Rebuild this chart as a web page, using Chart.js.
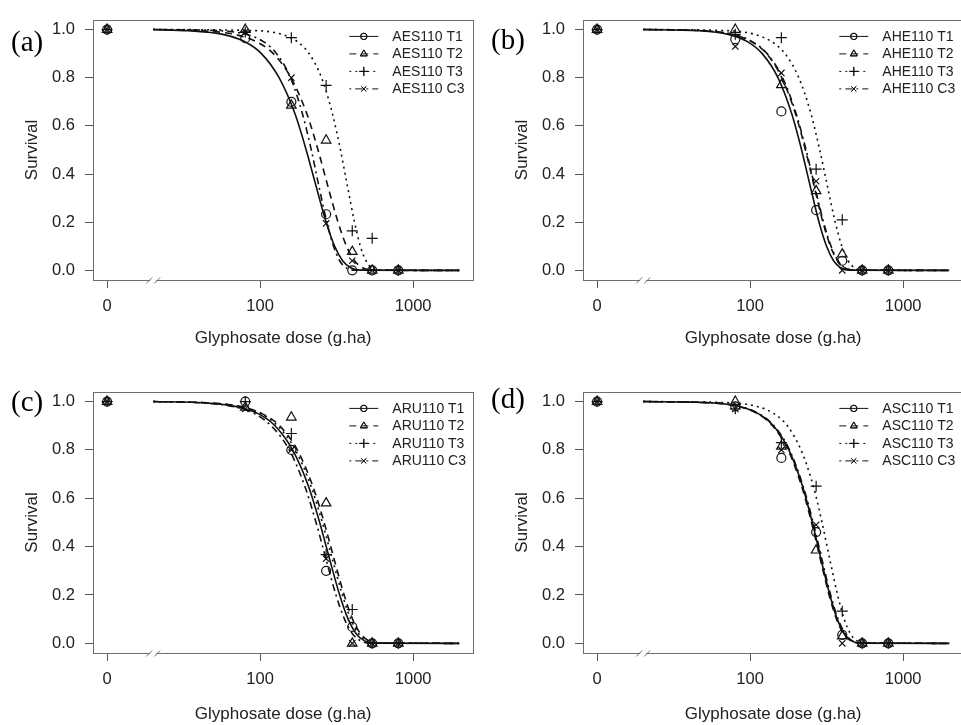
<!DOCTYPE html>
<html><head><meta charset="utf-8">
<script src="https://cdn.jsdelivr.net/npm/chart.js@4/dist/chart.umd.min.js"></script>
<style>
html,body{margin:0;padding:0;background:#fff;overflow:hidden;width:961px;height:725px;position:relative;}
canvas{position:absolute;}
.tag{position:absolute;font-family:"Liberation Serif","Times New Roman",serif;font-size:29px;line-height:32px;color:#000;}
</style></head><body>
<canvas id="ca" width="480" height="360" style="left:0;top:0"></canvas>
<canvas id="cb" width="480" height="360" style="left:490px;top:0"></canvas>
<canvas id="cc" width="480" height="360" style="left:0;top:372px"></canvas>
<canvas id="cd" width="480" height="360" style="left:490px;top:372px"></canvas>
<div class="tag" style="left:11px;top:25px">(a)</div>
<div class="tag" style="left:491px;top:23px">(b)</div>
<div class="tag" style="left:11px;top:385px">(c)</div>
<div class="tag" style="left:491px;top:382px">(d)</div>
<script>
// ---------- data ----------
const doses = [0, 80, 160, 270, 400, 540, 800];      // glyphosate doses (g/ha)
const zeroDosePosition = 10;                         // where dose 0 sits on the broken log axis
const breakDose = 20;                                // axis break mark
const tickDoses = [10, 100, 1000];
const tickLabels = ['0', '100', '1000'];
const yTicks = [0, 0.2, 0.4, 0.6, 0.8, 1.0];
const xTitle = 'Glyphosate dose (g.ha)';
const yTitle = 'Survival';

// observed survival at each dose
const a_T1 = [1, 0.964, 0.70, 0.233, 0, 0, 0];
const a_T2 = [1, 1.0, 0.685, 0.54, 0.078, 0, 0];
const a_T3 = [1, 0.99, 0.966, 0.768, 0.164, 0.133, 0];
const a_C3 = [1, 0.99, 0.80, 0.195, 0.04, 0, 0];
const b_T1 = [1, 0.96, 0.66, 0.25, 0.04, 0, 0];
const b_T2 = [1, 1.0, 0.77, 0.33, 0.067, 0, 0];
const b_T3 = [1, 0.98, 0.966, 0.42, 0.21, 0, 0];
const b_C3 = [1, 0.93, 0.82, 0.37, 0, 0, 0];
const c_T1 = [1, 1.0, 0.80, 0.30, 0.068, 0, 0];
const c_T2 = [1, 0.976, 0.935, 0.58, 0, 0, 0];
const c_T3 = [1, 1.0, 0.868, 0.367, 0.14, 0, 0];
const c_C3 = [1, 0.97, 0.80, 0.35, 0, 0, 0];
const d_T1 = [1, 0.98, 0.767, 0.46, 0.035, 0, 0];
const d_T2 = [1, 1.0, 0.815, 0.385, 0.03, 0, 0];
const d_T3 = [1, 0.97, 0.83, 0.65, 0.133, 0, 0];
const d_C3 = [1, 0.97, 0.80, 0.49, 0, 0, 0];

// fitted curves: dose at which each curve reaches the survival levels below
const curveSurvival = [1, 0.995, 0.98, 0.95, 0.9, 0.8, 0.65, 0.5, 0.35, 0.2, 0.1, 0.04, 0.01, 0.001, 0];
const a_T1_curve = [20, 34, 57, 79, 102, 133, 169, 200, 232, 270, 307, 346, 393, 455, 2000];
const a_T2_curve = [20, 41, 68, 94, 122, 159, 202, 239, 277, 323, 367, 414, 470, 543, 2000];
const a_T3_curve = [20, 98, 138, 175, 209, 252, 297, 335, 372, 414, 452, 492, 538, 595, 2000];
const a_C3_curve = [20, 55, 81, 105, 128, 158, 189, 216, 242, 273, 302, 331, 366, 409, 2000];
const b_T1_curve = [20, 47, 72, 96, 120, 152, 187, 217, 247, 282, 316, 351, 392, 445, 2000];
const b_T2_curve = [20, 49, 76, 102, 128, 161, 198, 230, 262, 299, 335, 372, 416, 472, 2000];
const b_T3_curve = [20, 73, 107, 138, 169, 208, 250, 285, 320, 360, 398, 437, 482, 540, 2000];
const b_C3_curve = [20, 50, 77, 103, 129, 163, 200, 232, 264, 302, 338, 375, 419, 476, 2000];
const c_T1_curve = [20, 42, 69, 97, 125, 163, 207, 245, 284, 331, 376, 424, 482, 557, 2000];
const c_T2_curve = [20, 45, 74, 103, 134, 175, 221, 262, 304, 354, 402, 453, 515, 596, 2000];
const c_T3_curve = [20, 44, 72, 101, 130, 170, 215, 255, 296, 345, 391, 441, 502, 580, 2000];
const c_C3_curve = [20, 40, 66, 92, 118, 155, 196, 232, 269, 313, 356, 401, 456, 527, 2000];
const d_T1_curve = [20, 55, 85, 113, 142, 179, 220, 255, 290, 332, 371, 412, 461, 523, 2000];
const d_T2_curve = [20, 54, 84, 112, 140, 177, 217, 252, 287, 328, 367, 407, 455, 517, 2000];
const d_T3_curve = [20, 75, 111, 143, 175, 215, 259, 295, 331, 373, 412, 452, 499, 559, 2000];
const d_C3_curve = [20, 55, 86, 114, 143, 181, 222, 258, 294, 336, 376, 417, 466, 529, 2000];

const namesA = ['AES110 T1', 'AES110 T2', 'AES110 T3', 'AES110 C3'];
const namesB = ['AHE110 T1', 'AHE110 T2', 'AHE110 T3', 'AHE110 C3'];
const namesC = ['ARU110 T1', 'ARU110 T2', 'ARU110 T3', 'ARU110 C3'];
const namesD = ['ASC110 T1', 'ASC110 T2', 'ASC110 T3', 'ASC110 C3'];

// ---------- styles ----------
const SANS = '"Liberation Sans", Arial, Helvetica, sans-serif';
const styles = [
  {point: 'circle',   dash: [],           radius: 4.5, legR: 3.2},
  {point: 'triangle', dash: [7, 5],       radius: 5.5, legR: 4},
  {point: 'cross',    dash: [2, 4],       radius: 5.5, legR: 4.5},
  {point: 'crossRot', dash: [2, 4, 7, 4], radius: 4.5, legR: 3.5}
];

const panels = [
  {id: 'ca', names: namesA, obs: [a_T1, a_T2, a_T3, a_C3], curves: [a_T1_curve, a_T2_curve, a_T3_curve, a_C3_curve], xh: 80, xtp: 11},
  {id: 'cb', names: namesB, obs: [b_T1, b_T2, b_T3, b_C3], curves: [b_T1_curve, b_T2_curve, b_T3_curve, b_C3_curve], xh: 80, xtp: 11},
  {id: 'cc', names: namesC, obs: [c_T1, c_T2, c_T3, c_C3], curves: [c_T1_curve, c_T2_curve, c_T3_curve, c_C3_curve], xh: 79, xtp: 7},
  {id: 'cd', names: namesD, obs: [d_T1, d_T2, d_T3, d_C3], curves: [d_T1_curve, d_T2_curve, d_T3_curve, d_C3_curve], xh: 79, xtp: 7}
];

function drawMarker(ctx, style, r, x, y) {
  if (Chart.helpers && Chart.helpers.drawPoint) {
    Chart.helpers.drawPoint(ctx, {pointStyle: style, radius: r, rotation: 0, borderWidth: 1}, x, y);
    ctx.stroke();
  }
}

const boxPlugin = {
  id: 'rBox',
  afterDatasetsDraw(chart) {
    const {ctx, chartArea: a} = chart;
    ctx.save();
    ctx.strokeStyle = '#6e6e6e';
    ctx.lineWidth = 1;
    ctx.setLineDash([]);
    ctx.strokeRect(Math.round(a.left) + 0.5, Math.round(a.top) + 0.5, Math.round(a.right - a.left), Math.round(a.bottom - a.top));
    // axis break mark
    const x = chart.scales.x.getPixelForValue(breakDose);
    const y = Math.round(a.bottom) + 0.5;
    ctx.fillStyle = '#fff';
    ctx.fillRect(x - 3, y - 2, 6, 4);
    ctx.beginPath();
    ctx.moveTo(x - 7, y + 3); ctx.lineTo(x - 1, y - 3);
    ctx.moveTo(x + 1, y + 3); ctx.lineTo(x + 7, y - 3);
    ctx.stroke();
    ctx.restore();
  }
};

const legendPlugin = {
  id: 'rLegend',
  afterDatasetsDraw(chart) {
    const {ctx, chartArea: a} = chart;
    const names = chart.options.plugins.rLegend.names;
    ctx.save();
    names.forEach((n, i) => {
      const y = a.top + 16.5 + i * 17.5;
      const st = styles[i];
      ctx.strokeStyle = '#111';
      ctx.lineWidth = 1;
      ctx.setLineDash(st.dash);
      ctx.beginPath();
      ctx.moveTo(a.right - 124, y); ctx.lineTo(a.right - 95, y);
      ctx.stroke();
      ctx.setLineDash([]);
      ctx.fillStyle = 'rgba(0,0,0,0)';
      drawMarker(ctx, st.point, st.legR, a.right - 109.5, y);
      ctx.fillStyle = '#222';
      ctx.font = '14px ' + SANS;
      ctx.textBaseline = 'middle';
      ctx.textAlign = 'left';
      ctx.fillText(n, a.right - 81, y + 0.5);
    });
    ctx.restore();
  }
};

function makeChart(p) {
  const datasets = [];
  p.obs.forEach((o, i) => {
    datasets.push({
      type: 'scatter', label: p.names[i],
      data: doses.map((d, j) => ({x: d === 0 ? zeroDosePosition : d, y: o[j]})),
      pointStyle: styles[i].point, pointRadius: styles[i].radius,
      borderColor: '#111', backgroundColor: 'rgba(0,0,0,0)', pointBorderWidth: 1.2,
      showLine: false
    });
  });
  p.curves.forEach((c, i) => {
    datasets.push({
      type: 'line', label: p.names[i],
      data: c.map((d, j) => ({x: d, y: curveSurvival[j]})),
      borderColor: '#111', borderWidth: 1.6, borderDash: styles[i].dash,
      pointRadius: 0, cubicInterpolationMode: 'monotone', fill: false
    });
  });
  const tickFont = {family: SANS, size: 16.5};
  new Chart(document.getElementById(p.id), {
    data: {datasets},
    options: {
      responsive: false, animation: false, events: [],
      layout: {padding: {top: 13, right: 3, left: 0, bottom: 0}},
      plugins: {legend: {display: false}, tooltip: {enabled: false}, rLegend: {names: p.names}},
      scales: {
        x: {
          type: 'logarithmic', position: 'bottom', min: 8.09, max: 2472,
          afterBuildTicks: s => { s.ticks = tickDoses.map(v => ({value: v})); },
          afterFit: s => { s.height = p.xh; },
          ticks: {autoSkip: false, maxRotation: 0, minRotation: 0, padding: 9, color: '#222', font: tickFont,
                  callback: (v, i) => tickLabels[i]},
          grid: {display: true, drawOnChartArea: false, drawTicks: true, tickLength: 8, color: '#555', lineWidth: 1},
          border: {display: false},
          title: {display: true, text: xTitle, color: '#222', font: {family: SANS, size: 17}, padding: {top: 0, bottom: p.xtp}}
        },
        y: {
          type: 'linear', position: 'left', min: -0.04, max: 1.04,
          afterBuildTicks: s => { s.ticks = yTicks.map(v => ({value: v})); },
          afterFit: s => { s.width = 93; },
          ticks: {padding: 10, color: '#222', font: tickFont, callback: v => Number(v).toFixed(1)},
          grid: {display: true, drawOnChartArea: false, drawTicks: true, tickLength: 8, color: '#555', lineWidth: 1},
          border: {display: false},
          title: {display: true, text: yTitle, color: '#222', font: {family: SANS, size: 17}, padding: {top: 22, bottom: 0}}
        }
      }
    },
    plugins: [boxPlugin, legendPlugin]
  });
}
panels.forEach(makeChart);
</script>
</body></html>
